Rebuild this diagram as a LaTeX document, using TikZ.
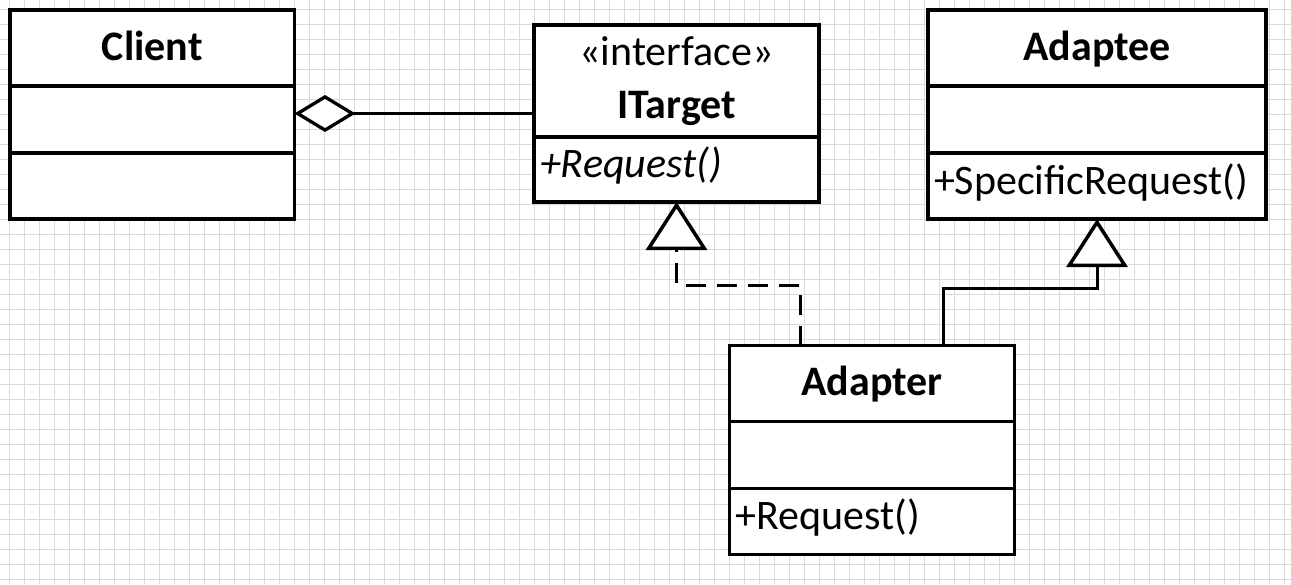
\documentclass[tikz,border=0pt]{standalone}
\usepackage{fontspec}
\setmainfont{Carlito}
\usetikzlibrary{arrows.meta,fit,calc}
\definecolor{gridgray}{RGB}{218,218,218}
\newcommand{\classfont}{\fontsize{42pt}{53pt}\selectfont}
\begin{document}
\begin{tikzpicture}[x=1pt,y=-1pt,
  gridline/.style={draw=gridgray, line width=1pt},
  part/.style={draw, line width=3.4pt, fill=white, inner sep=0pt, outer sep=0pt,
    anchor=north west, minimum width=#1, font=\classfont},
  part/.default=284.5pt,
  titlepart/.style={part=#1, minimum height=76pt, font=\classfont\bfseries,
    text height=30pt, text depth=6pt},
  titlepart/.default=284.5pt,
  attrpart/.style={part=#1, minimum height=67pt},
  attrpart/.default=284.5pt,
  opspart/.style={part=#1, minimum height=66pt, inner xsep=6pt, align=left,
    text height=28pt, text depth=12pt},
  opspart/.default=284.5pt,
  box/.style={inner sep=0pt, outer sep=0pt},
  link/.style={draw, line width=3pt},
  aggregation/.style={link,
    -{Diamond[fill=white, length=61pt, width=37pt, line width=3.3pt]}},
  realization/.style={link, dash pattern=on 20pt off 11pt,
    -{Triangle[fill=white, length=48pt, width=61pt, line width=3.5pt]}},
  generalization/.style={link,
    -{Triangle[fill=white, length=48pt, width=61pt, line width=3.5pt]}}
]
% paper and grid
\fill[white] (0,0) rectangle (1291,584);
\useasboundingbox (0,0) rectangle (1291,584);
\foreach \gx in {9.5,24.5,...,1290} \draw[gridline] (\gx,0) -- (\gx,584);
\foreach \gy in {9.5,24.5,...,584} \draw[gridline] (0,\gy) -- (1291,\gy);

% Client
\node[titlepart] (client) at (10,10) {Client};
\node[attrpart] (client-attr) at (client.south west) {};
\node[attrpart, minimum height=66pt] (client-ops) at (client-attr.south west) {};
\node[box, fit=(client)(client-ops)] (client-box) {};

% ITarget
\node[part=285pt, minimum height=112pt, align=center] (itarget) at (534,25)
  {«interface»\\\textbf{ITarget}};
\node[opspart=285pt, minimum height=65pt, text width=273pt] (itarget-ops)
  at (itarget.south west) {\itshape +Request()};
\node[box, fit=(itarget)(itarget-ops)] (itarget-box) {};

% Adaptee
\node[titlepart=338pt] (adaptee) at (928,10) {Adaptee};
\node[attrpart=338pt] (adaptee-attr) at (adaptee.south west) {};
\node[opspart=338pt, text width=326pt] (adaptee-ops) at (adaptee-attr.south west)
  {+SpecificRequest()};
\node[box, fit=(adaptee)(adaptee-ops)] (adaptee-box) {};

% Adapter
\node[titlepart] (adapter) at (729.7,345.7) {Adapter};
\node[attrpart] (adapter-attr) at (adapter.south west) {};
\node[opspart, text width=272.5pt] (adapter-ops) at (adapter-attr.south west)
  {+Request()};
\node[box, fit=(adapter)(adapter-ops)] (adapter-box) {};

% relations
\draw[aggregation] (itarget-box.west) -- (itarget-box.west -| client-box.east);
\coordinate (real-foot) at ($(adapter-box.north west)+(70.3,0)$);
\coordinate (gen-foot) at ($(adapter-box.north west)+(213.3,0)$);
\draw[realization] (real-foot) -- ++(0,-60.5) -| (itarget-box.south);
\draw[generalization] (gen-foot) -- ++(0,-57.7) -| (adaptee-box.south);
\end{tikzpicture}
\end{document}
